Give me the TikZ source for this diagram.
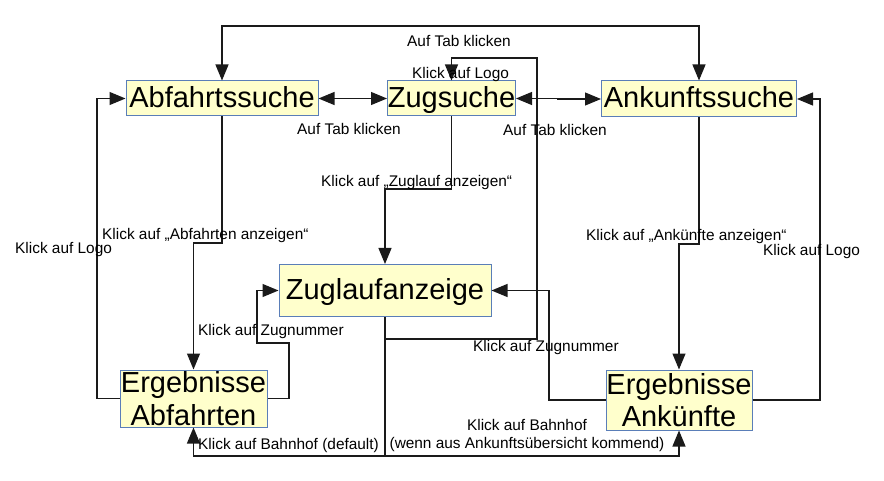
\documentclass[tikz,border=0pt]{standalone}
\usepackage{fontspec}
\setmainfont{Liberation Sans}
\definecolor{seiteGelb}{HTML}{FFFFCC}
\definecolor{seiteBlau}{HTML}{5A7EB8}
\definecolor{linieGrau}{HTML}{1A1A1A}
\usetikzlibrary{
	arrows.meta,
	positioning,
	calc
}
\tikzset{
	kastenSeite/.style={
		draw=seiteBlau,
		fill=seiteGelb,
		line width=1pt,
		align=center,
		inner sep=0pt,
		font=\fontsize{29}{32.3}\selectfont
	},
	kastenEin/.style={
		kastenSeite,
		text height=20pt,
		text depth=2pt
	},
	pfeilNav/.style={
		-{Triangle[length=16pt,width=13pt]},
		line width=1.2pt,
		draw=linieGrau
	},
	doppelNav/.style={
		pfeilNav,
		{Triangle[length=16pt,width=13pt]}-{Triangle[length=16pt,width=13pt]}
	},
	textNav/.style={
		align=center,
		inner sep=0pt,
		font=\fontsize{15.4}{18.3}\selectfont
	}
}

\begin{document}
\begin{tikzpicture}[x=1pt, y=-1pt]
		\useasboundingbox (0,0) rectangle (884,481);
		% Seiten
		\node[kastenEin, minimum width=192pt, minimum height=35pt] (abfahrtSuche) at (222,98.5) {Abfahrtssuche};
		\node[kastenEin, minimum width=128pt, minimum height=35pt] (zugSuche) at (451.5,98.5) {Zugsuche};
		\node[kastenEin, minimum width=195pt, minimum height=36pt] (ankunftSuche) at (699,99) {Ankunftssuche};
		\node[kastenEin, minimum width=212pt, minimum height=52pt] (zuglaufAnz) at (385,290.5) {Zuglaufanzeige};
		\node[kastenSeite, minimum width=147pt, minimum height=57pt] (ergAbf) at (193.5,398.5) {Ergebnisse\\Abfahrten};
		\node[kastenSeite, minimum width=146pt, minimum height=60pt] (ergAnk) at (679,400) {Ergebnisse\\Ankünfte};
		% Knickpunkte
		\coordinate (tabOben) at (460,26);
		\coordinate (tabKnick) at (558,98);
		\coordinate (logoEcke) at (537,339);
		\coordinate (logoOben) at (537,58);
		\coordinate (bahnhofUnten) at (385,456);
		\coordinate (abfKnick) at (207,243);
		\coordinate (logoLinks) at (97,250);
		\coordinate (zugnrA) at (289,343);
		\coordinate (zugnrB) at (257,343);
		\coordinate (zlKnick) at (420,189);
		\coordinate (ankKnick) at (690,244);
		\coordinate (logoRechts) at (820,250);
		\coordinate (zugnrC) at (549,345);
		% Tabs
		\draw[doppelNav] (abfahrtSuche.north) |- (tabOben) -| (ankunftSuche.north);
		\draw[doppelNav] (abfahrtSuche.east) -- (zugSuche.west);
		\draw[doppelNav] (zugSuche.east) -- (zugSuche.east -| tabKnick) -- (tabKnick |- ankunftSuche.west) -- (ankunftSuche.west);
		% Uebergaenge
		\draw[pfeilNav] (zuglaufAnz.south) |- (logoEcke) -- (logoOben) -| (zugSuche.north);
		\draw[pfeilNav] (zuglaufAnz.south) -- (bahnhofUnten) -| (ergAbf.south);
		\draw[pfeilNav] (bahnhofUnten) -| (ergAnk.south);
		\draw[pfeilNav] (abfahrtSuche.south) |- (abfKnick) -| (ergAbf.north);
		\draw[pfeilNav] (ergAbf.west) -| (logoLinks) |- (abfahrtSuche.west);
		\draw[pfeilNav] (ergAbf.east) -| (zugnrA) -- (zugnrB) |- (zuglaufAnz.west);
		\draw[pfeilNav] (zugSuche.south) |- (zlKnick) -| (zuglaufAnz.north);
		\draw[pfeilNav] (ankunftSuche.south) |- (ankKnick) -| (ergAnk.north);
		\draw[pfeilNav] (ergAnk.east) -| (logoRechts) |- (ankunftSuche.east);
		\draw[pfeilNav] (ergAnk.west) -| (zugnrC) |- (zuglaufAnz.east);
		% Beschriftungen
		\foreach \name/\pos/\txt in {
			txtTabOben/{407,46.7}/Auf Tab klicken,
			txtTabLinks/{297,134.3}/Auf Tab klicken,
			txtTabRechts/{503,136}/Auf Tab klicken,
			txtLogoZug/{412,79}/Klick auf Logo,
			txtLogoLinks/{15,254}/Klick auf Logo,
			txtLogoRechts/{763,256}/Klick auf Logo,
			txtZuglauf/{321,186.7}/Klick auf „Zuglauf anzeigen“,
			txtAbfahrten/{102,240}/Klick auf „Abfahrten anzeigen“,
			txtAnkuenfte/{586,241}/Klick auf „Ankünfte anzeigen“,
			txtZugnrLinks/{198,335}/Klick auf Zugnummer,
			txtZugnrRechts/{473,351}/Klick auf Zugnummer,
			txtBahnhofAbf/{198,449}/Klick auf Bahnhof (default)}{
			\node[textNav, anchor=base west] (\name) at (\pos) {\txt};
		}
		\node[textNav, anchor=north] (txtBahnhofAnk) at (527,418.8) {Klick auf Bahnhof\\(wenn aus Ankunftsübersicht kommend)};
	\end{tikzpicture}
\end{document}
